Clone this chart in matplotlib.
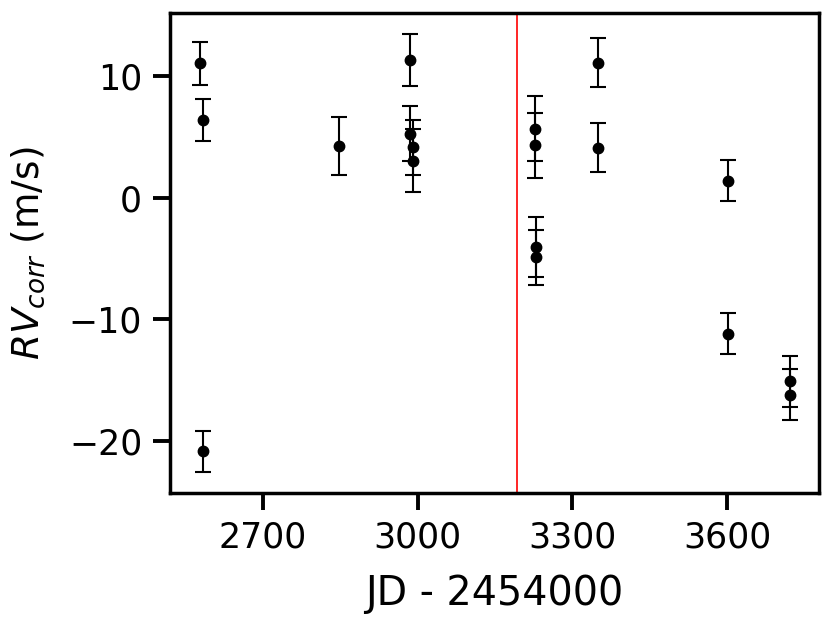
import matplotlib
matplotlib.use("Agg")
import matplotlib.pyplot as plt

# Данные: время наблюдений, скорость и ошибки
jd = [2578, 2584, 2584, 2848, 2985, 2985, 2991, 2991,
      3228, 3228, 3229, 3229, 3350, 3350, 3601, 3601, 3721, 3721]
rv = [11.09, 6.42, -20.88, 4.28, 11.36, 5.27, 4.17, 3.07,
      5.68, 4.33, -4.06, -4.91, 11.14, 4.14, 1.43, -11.19, -15.12, -16.21]
rv_err = [1.77, 1.74, 1.70, 2.39, 2.17, 2.26, 2.25, 2.57,
          2.67, 2.67, 2.48, 2.25, 2.02, 2.04, 1.70, 1.69, 2.06, 2.11]
jd_line = 3193

fig = plt.figure(figsize=(8.31, 6.23), dpi=100)
ax = fig.add_axes([0.2046, 0.2087, 0.781, 0.770])

ax.errorbar(jd, rv, yerr=rv_err, fmt="o", color="black", ms=7.5,
            elinewidth=1.5, capsize=6, capthick=1.5)
ax.axvline(jd_line, color="red", lw=1.2)

ax.set_xlim(2520, 3778)
ax.set_ylim(-24.3, 15.2)
ax.set_xticks([2700, 3000, 3300, 3600])
ax.set_yticks([-20, -10, 0, 10])

ax.set_xlabel("JD - 2454000", fontsize=28.5, labelpad=14)
ax.set_ylabel("$RV_{corr}$ (m/s)", fontsize=27, labelpad=16)
ax.tick_params(labelsize=25, length=12, width=2.8, pad=8)
for s in ax.spines.values():
    s.set_linewidth(2.5)

plt.savefig("out.png", dpi=100)
